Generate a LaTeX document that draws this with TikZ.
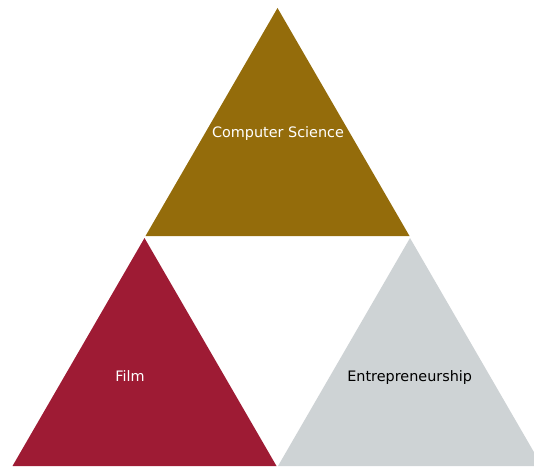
\documentclass[tikz,border=0pt]{standalone}
\usepackage{fontspec}
\setmainfont{DejaVu Sans}
\definecolor{csgold}{HTML}{946C0B}
\definecolor{filmred}{HTML}{9E1B34}
\definecolor{entgray}{HTML}{CED3D5}
\begin{document}
\begin{tikzpicture}[x=1pt,y=1pt,
  lbl/.style={font=\fontsize{14.4}{16}\selectfont, inner sep=0pt, anchor=base}]
\useasboundingbox (0,0) rectangle (534,466);
\clip (0,0) rectangle (534,466);
\fill[csgold] (277.5,458) -- (145.5,230) -- (409.5,230) -- cycle;
\fill[filmred] (144.5,228) -- (12.5,0) -- (276.5,0) -- cycle;
\fill[entgray] (410,228) -- (278,0) -- (542,0) -- cycle;
\node[lbl, text=white] (cs) at (278,328.3) {Computer Science};
\node[lbl, text=white] (film) at (130,85) {Film};
\node[lbl, text=black] (ent) at (409.7,84.3) {Entrepreneurship};
\end{tikzpicture}
\end{document}
